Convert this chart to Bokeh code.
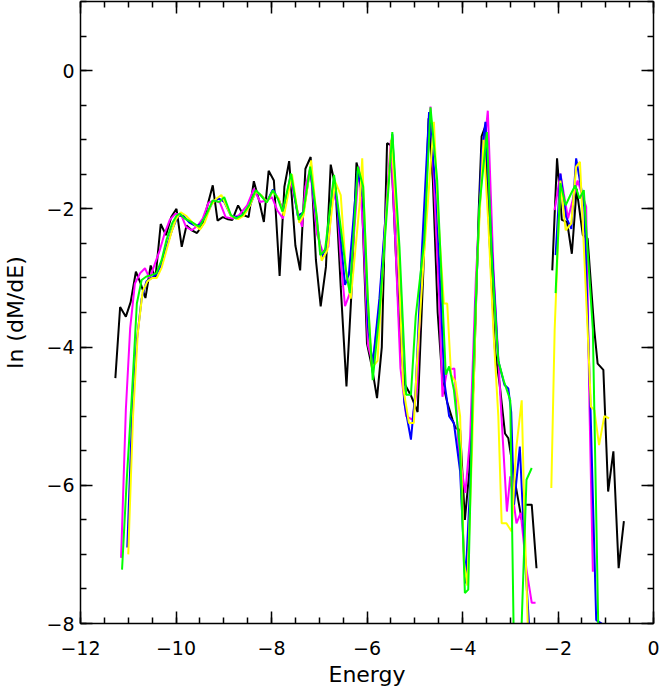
import numpy as np
from bokeh.plotting import figure
from bokeh.models import LinearAxis, Range1d, FixedTicker, CustomJSTickFormatter
from bokeh.embed import file_html
from bokeh.resources import INLINE

nan = float("nan")

# ---- data ----
bk_x = [-11.27,-11.17,-11.05,-10.95,-10.84,-10.74,-10.64,-10.53,-10.43,-10.32,-10.21,-10.10,-9.99,-9.88,-9.78,-9.67,-9.56,-9.45,-9.34,-9.23,-9.13,-9.02,-8.91,-8.82,-8.70,-8.59,-8.48,-8.37,-8.26,-8.16,-8.06,-7.95,-7.83,-7.73,-7.63,-7.50,-7.40,-7.29,-7.18,-7.07,-6.97,-6.86,-6.76,-6.66,-6.55,-6.43,-6.33,-6.22,-6.12,-6.00,-5.90,-5.79,-5.69,-5.58,-5.50,-5.40,-5.30,-5.20,-5.08,-4.94,-4.82,-4.71,-4.62,-4.52,-4.42,-4.32,-4.21,-4.15,-4.05,-3.95,-3.86,-3.76,-3.66,-3.60,-3.53,-3.43,-3.32,-3.22,-3.11,-3.04,-2.90,-2.76,-2.69,-2.55,-2.45,
        nan, -2.12,-2.02,-1.92,-1.81,-1.71,-1.61,-1.48,-1.38,-1.24,-1.17,-1.05,-0.95,-0.84,-0.73,-0.62]
bk_y = [-4.45,-3.42,-3.56,-3.35,-2.91,-3.08,-3.29,-2.82,-3.00,-2.22,-2.38,-2.12,-2.00,-2.55,-2.24,-2.31,-2.35,-2.24,-1.95,-1.66,-2.17,-2.12,-2.15,-2.16,-1.95,-2.09,-2.12,-1.60,-1.88,-2.19,-1.45,-1.59,-2.97,-1.68,-1.31,-2.53,-2.89,-1.42,-1.25,-2.74,-3.41,-2.84,-1.36,-1.68,-3.13,-4.57,-3.27,-1.33,-1.59,-3.95,-4.28,-4.74,-4.00,-1.05,-1.08,-2.60,-4.00,-4.55,-4.70,-4.94,-2.90,-0.69,-1.60,-3.50,-4.50,-4.80,-5.05,-5.17,-5.20,-6.50,-5.82,-4.40,-2.02,-0.95,-0.82,-2.50,-4.04,-4.55,-5.25,-5.32,-5.95,-6.50,-6.28,-6.28,-7.20,
        nan, -2.89,-1.27,-2.16,-2.19,-2.65,-1.71,-2.38,-2.43,-3.75,-4.24,-4.33,-6.09,-5.51,-7.20,-6.52]

mg_x = [-11.15,-11.05,-10.96,-10.86,-10.75,-10.65,-10.55,-10.44,-10.34,-10.24,-10.13,-10.01,-9.89,-9.79,-9.67,-9.54,-9.44,-9.32,-9.20,-9.08,-8.96,-8.82,-8.68,-8.51,-8.37,-8.24,-8.10,-7.99,-7.88,-7.76,-7.61,-7.47,-7.36,-7.29,-7.19,-7.05,-6.93,-6.81,-6.72,-6.62,-6.55,-6.46,-6.36,-6.17,-6.08,-5.98,-5.88,-5.74,-5.60,-5.50,-5.40,-5.30,-5.18,-5.05,-4.95,-4.87,-4.67,-4.49,-4.42,-4.32,-4.17,-4.08,-3.94,-3.84,-3.72,-3.60,-3.47,-3.35,-3.20,-3.07,-3.00,-2.87,-2.78,-2.66,-2.55,-2.47,
        nan, -2.07,-1.95,-1.79,-1.59,-1.41,-1.34,-1.27]
mg_y = [-7.05,-4.90,-3.73,-3.08,-2.93,-2.86,-3.01,-2.79,-2.60,-2.36,-2.16,-2.07,-2.09,-2.26,-2.31,-2.24,-2.14,-1.91,-1.88,-1.91,-2.12,-2.14,-2.09,-1.95,-1.71,-1.90,-1.88,-1.83,-2.02,-2.14,-1.54,-2.00,-2.26,-1.68,-1.42,-2.36,-2.62,-2.55,-1.73,-1.95,-2.74,-3.41,-3.22,-1.39,-2.30,-3.97,-4.24,-3.40,-2.00,-1.01,-2.60,-4.30,-5.00,-5.05,-4.60,-3.08,-0.52,-3.27,-4.72,-4.33,-4.31,-5.50,-6.11,-5.30,-3.00,-1.50,-0.58,-2.90,-4.80,-6.38,-5.87,-6.55,-6.40,-7.22,-7.70,-7.70,
        nan, -2.02,-1.49,-2.14,-1.59,-1.97,-4.90,-7.25]

bl_x = [-11.02,-10.92,-10.82,-10.72,-10.62,-10.51,-10.41,-10.30,-10.20,-10.08,-9.96,-9.85,-9.72,-9.58,-9.48,-9.37,-9.23,-9.10,-8.99,-8.85,-8.70,-8.58,-8.45,-8.33,-8.22,-8.10,-7.97,-7.84,-7.74,-7.59,-7.45,-7.33,-7.19,-7.05,-6.95,-6.85,-6.69,-6.57,-6.46,-6.38,-6.20,-6.08,-5.98,-5.88,-5.74,-5.60,-5.47,-5.33,-5.22,-5.08,-4.98,-4.85,-4.70,-4.55,-4.38,-4.28,-4.18,-4.05,-3.94,-3.84,-3.72,-3.60,-3.52,-3.40,-3.25,-3.12,-3.04,-2.98,-2.92,-2.80,-2.68,-2.59,
        nan, -2.05,-1.95,-1.83,-1.72,-1.62,-1.45,-1.32,-1.20,-1.02,-0.90]
bl_y = [-6.90,-5.00,-3.90,-3.30,-3.05,-3.00,-2.95,-2.80,-2.55,-2.30,-2.10,-2.10,-2.20,-2.25,-2.22,-2.10,-1.90,-1.85,-1.90,-2.10,-2.12,-2.08,-1.95,-1.75,-1.80,-1.90,-1.72,-1.88,-2.05,-1.50,-2.10,-2.05,-1.42,-2.20,-2.70,-2.55,-1.55,-2.30,-3.10,-2.95,-1.45,-1.85,-3.70,-4.25,-3.30,-2.00,-0.92,-2.80,-4.80,-5.34,-4.60,-2.60,-0.60,-1.80,-4.50,-5.00,-5.10,-5.80,-7.42,-6.00,-3.30,-1.20,-0.74,-2.40,-4.20,-4.55,-4.60,-4.94,-6.28,-5.44,-7.20,-8.20,
        nan, -2.67,-1.49,-2.12,-2.29,-1.27,-1.97,-4.88,-7.95,-8.03,-8.10]

yl_x = [-11.00,-10.90,-10.80,-10.70,-10.60,-10.50,-10.40,-10.30,-10.20,-10.10,-10.00,-9.90,-9.79,-9.65,-9.50,-9.40,-9.27,-9.15,-9.05,-8.95,-8.85,-8.70,-8.58,-8.45,-8.33,-8.22,-8.10,-7.97,-7.85,-7.74,-7.57,-7.42,-7.33,-7.17,-7.03,-6.95,-6.83,-6.67,-6.55,-6.44,-6.34,-6.15,-6.10,-6.00,-5.90,-5.78,-5.62,-5.49,-5.36,-5.24,-5.12,-5.02,-4.95,-4.82,-4.60,-4.50,-4.39,-4.32,-4.24,-4.15,-4.05,-3.97,-3.90,-3.80,-3.70,-3.56,-3.46,-3.35,-3.25,-3.18,-3.08,-2.97,-2.88,-2.76,-2.70,-2.62,
        nan, -2.14,-2.07,-1.95,-1.84,-1.72,-1.62,-1.54,-1.38,-1.31,-1.24,-1.14,-1.03,-0.93]
yl_y = [-7.00,-5.00,-3.80,-3.20,-3.05,-3.00,-3.00,-2.85,-2.60,-2.35,-2.15,-2.05,-2.10,-2.20,-2.30,-2.20,-1.95,-1.85,-1.80,-1.95,-2.10,-2.15,-2.10,-1.95,-1.75,-1.80,-1.90,-1.75,-1.85,-2.10,-1.50,-2.20,-2.10,-1.30,-2.30,-2.75,-2.60,-1.60,-1.80,-2.90,-3.30,-1.90,-1.27,-3.10,-4.30,-4.20,-2.30,-1.00,-2.30,-4.60,-5.10,-5.10,-4.20,-2.80,-0.74,-2.20,-3.37,-3.37,-4.40,-4.50,-5.00,-7.10,-7.45,-5.50,-2.90,-1.00,-2.20,-3.80,-5.00,-6.55,-6.55,-6.67,-5.50,-4.77,-6.50,-8.30,
        nan, -6.04,-3.75,-1.59,-2.31,-2.21,-1.39,-1.32,-3.75,-4.86,-4.91,-5.42,-5.00,-5.03]

gr_x = [-11.13,-11.03,-10.93,-10.82,-10.72,-10.62,-10.51,-10.41,-10.30,-10.20,-10.08,-9.99,-9.92,-9.82,-9.68,-9.51,-9.37,-9.23,-9.09,-8.99,-8.85,-8.75,-8.61,-8.47,-8.33,-8.23,-8.10,-7.97,-7.87,-7.77,-7.59,-7.43,-7.33,-7.19,-7.05,-6.98,-6.88,-6.69,-6.57,-6.44,-6.36,-6.19,-6.08,-5.98,-5.88,-5.74,-5.60,-5.47,-5.32,-5.18,-5.08,-4.98,-4.80,-4.67,-4.53,-4.35,-4.28,-4.18,-4.05,-3.95,-3.88,-3.78,-3.65,-3.49,-3.38,-3.25,-3.14,-3.00,-2.91,-2.81,-2.66,-2.55,
        nan, -2.05,-1.95,-1.84,-1.74,-1.64,-1.55,-1.46,-1.37,-1.27,-1.15]
gr_y = [-7.22,-5.90,-4.77,-3.37,-3.03,-2.98,-2.96,-2.93,-2.74,-2.45,-2.21,-2.10,-2.07,-2.14,-2.19,-2.26,-2.09,-1.88,-1.90,-1.83,-2.09,-2.14,-2.09,-1.95,-1.73,-1.80,-1.91,-1.73,-1.85,-2.04,-1.49,-2.16,-2.04,-1.39,-2.12,-2.67,-2.60,-1.51,-2.16,-2.89,-3.22,-1.39,-1.68,-3.32,-4.48,-3.51,-2.20,-0.89,-2.55,-4.69,-4.69,-3.56,-2.45,-0.53,-1.59,-4.40,-4.28,-4.62,-5.50,-7.56,-7.51,-4.50,-2.00,-0.89,-2.80,-4.20,-4.48,-4.77,-9.00,-9.00,-5.92,-5.75,
        nan, -3.22,-1.63,-1.95,-1.80,-1.66,-1.85,-1.73,-2.70,-3.75,-8.30]

series = [
    (bk_x, bk_y, "black"),
    (mg_x, mg_y, "#ff00ff"),
    (bl_x, bl_y, "#0000ff"),
    (yl_x, yl_y, "#ffff00"),
    (gr_x, gr_y, "#00ff00"),
]

x_major = [-12, -10, -8, -6, -4, -2, 0]
y_major = [-8, -6, -4, -2, 0]

FONT = "DejaVu Sans"

p = figure(width=659, height=689,
           x_range=Range1d(-12, 0), y_range=Range1d(-8, 1),
           output_backend="svg", toolbar_location=None,
           min_border_left=75, min_border_right=6,
           min_border_top=1, min_border_bottom=65,
           background_fill_color="white", border_fill_color="white")
p.outline_line_color = None
p.xgrid.visible = False
p.ygrid.visible = False

for xs, ys, c in series:
    p.line(xs, ys, line_color=c, line_width=2)

xt = FixedTicker(ticks=x_major, minor_ticks=list(np.arange(-12, 0.01, 0.5)))
yt = FixedTicker(ticks=y_major, minor_ticks=list(np.arange(-8, 1.01, 0.5)))
fmt = CustomJSTickFormatter(code="return (tick < 0 ? '\u2212' : '') + Math.abs(tick).toFixed(0);")
blank = CustomJSTickFormatter(code="return '';")

def style(ax, ticker, formatter):
    ax.ticker = ticker
    ax.formatter = formatter
    ax.axis_line_color = "black"
    ax.axis_line_width = 1.5
    ax.major_tick_line_color = "black"
    ax.major_tick_line_width = 1.5
    ax.minor_tick_line_color = "black"
    ax.minor_tick_line_width = 1.5
    ax.major_tick_in = 12
    ax.major_tick_out = 0
    ax.minor_tick_in = 6
    ax.minor_tick_out = 0
    ax.major_label_text_font = FONT
    ax.major_label_text_font_size = "19px"
    ax.major_label_text_color = "black"
    ax.axis_label_text_font = FONT
    ax.axis_label_text_font_size = "22px"
    ax.axis_label_text_font_style = "normal"
    ax.axis_label_text_color = "black"

style(p.xaxis[0], xt, fmt)
style(p.yaxis[0], yt, fmt)
p.xaxis[0].axis_label = "Energy"
p.yaxis[0].axis_label = "ln (dM/dE)"
p.xaxis[0].major_label_standoff = 17
p.xaxis[0].axis_label_standoff = 4
p.yaxis[0].major_label_standoff = 6
p.yaxis[0].axis_label_standoff = 15

top = LinearAxis()
right = LinearAxis()
style(top, xt, blank)
style(right, yt, blank)
for ax in (top, right):
    ax.major_label_standoff = 0
    ax.major_label_text_font_size = "0px"
p.add_layout(top, "above")
p.add_layout(right, "right")

open("out.html", "w").write(file_html(p, INLINE))
